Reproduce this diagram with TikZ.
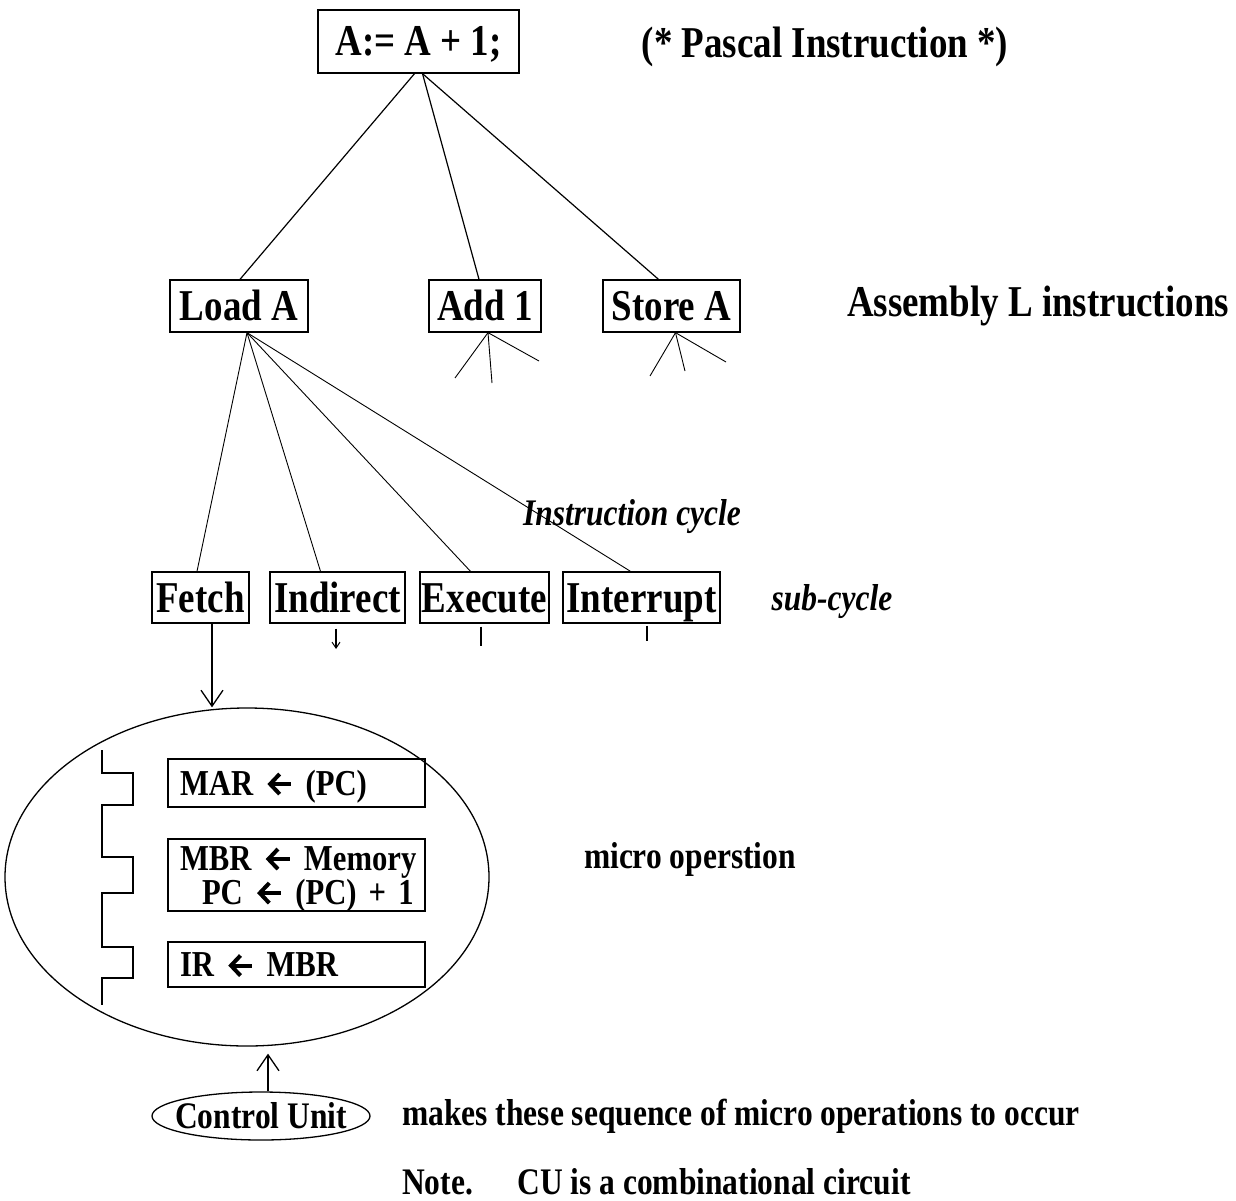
\documentclass[tikz,border=0pt]{standalone}
\usepackage{fontspec}
\setmainfont{Liberation Serif}[FakeStretch=0.84]
\usetikzlibrary{arrows.meta,shapes.geometric}

% thick chevron arrow used in the register transfer statements
\newcommand\lar{\tikz[baseline=-0.3em]\draw[line width=0.11em,{Straight Barb[length=0.26em,width=0.55em,line width=0.11em]}-] (0pt,0pt) -- (0.66em,0pt);}

\begin{document}
\begin{tikzpicture}[x=1pt,y=-1pt,
  ln/.style={line width=1.2pt},
  thin/.style={line width=0.9pt},
  box/.style={draw,line width=1.3pt,inner sep=0pt,text height=29pt,text depth=0pt,
              font=\fontsize{44}{48}\selectfont\bfseries},
  lbl/.style={inner sep=0pt,anchor=base,font=\fontsize{44}{48}\selectfont\bfseries},
  note/.style={inner sep=0pt,anchor=base,font=\fontsize{37.5}{42}\selectfont\bfseries},
  op/.style={draw,line width=1.2pt,inner xsep=0pt,inner ysep=0pt,text width=257pt,align=left,
             font=\fontsize{36.5}{34}\selectfont\bfseries},
  openhead/.style={-{Straight Barb[length=16pt,width=22pt,line width=1.3pt]}},
  smallhead/.style={-{Straight Barb[length=6pt,width=8pt,line width=1pt]}}]

\fill[white] (0,0) rectangle (1236,1201);
\useasboundingbox (0,0) rectangle (1236,1201);

% Pascal statement
\node[box,minimum width=201pt,minimum height=63pt] (pas) at (418.5,41.5) {A:= A + 1;};
\node[lbl] (pascal) at (825,58) {(* Pascal Instruction *)};

% assembly level
\node[box,minimum width=138pt,minimum height=52pt] (load) at (239,306) {Load A};
\node[box,minimum width=112pt,minimum height=52pt] (add) at (485,306) {Add 1};
\node[box,minimum width=137pt,minimum height=52pt] (store) at (671.5,306) {Store A};
\node[lbl] (asm) at (1038,316) {Assembly L instructions};

\draw[ln] ([xshift=-4pt]pas.south) -- ([xshift=1pt]load.north);
\draw[ln] ([xshift=4pt]pas.south) -- ([xshift=-6pt]add.north);
\draw[ln] ([xshift=4pt]pas.south) -- ([xshift=-13pt]store.north);

% unexpanded sub-trees of Add 1 and Store A
\coordinate (a1) at (455,378);
\coordinate (a2) at (492,383);
\coordinate (a3) at (539,361);
\coordinate (s1) at (650,376);
\coordinate (s2) at (685,371);
\coordinate (s3) at (726,362);
\foreach \e in {a1,a2,a3} \draw[thin] ([xshift=3pt]add.south) -- (\e);
\foreach \e in {s1,s2,s3} \draw[thin] ([xshift=4pt]store.south) -- (\e);

% instruction cycle
\node[box,minimum width=97pt,minimum height=51pt] (fetch) at (200.5,597.5) {Fetch};
\node[box,minimum width=135pt,minimum height=51pt] (ind) at (337.5,597.5) {Indirect};
\node[box,minimum width=129pt,minimum height=51pt] (exe) at (484.5,597.5) {Execute};
\node[box,minimum width=157pt,minimum height=51pt] (intr) at (641.5,597.5) {Interrupt};

\draw[thin] ([xshift=8pt]load.south) -- ([xshift=-3.5pt]fetch.north);
\draw[thin] ([xshift=8pt]load.south) -- ([xshift=-17pt]ind.north);
\draw[thin] ([xshift=8pt]load.south) -- ([xshift=-14pt]exe.north);
\draw[thin] ([xshift=8pt]load.south) -- ([xshift=-11pt]intr.north);

\node[note,font=\fontsize{37.5}{42}\selectfont\bfseries\itshape] (icyc) at (632,525) {Instruction cycle};
\node[note,font=\fontsize{37.5}{42}\selectfont\bfseries\itshape] (sub) at (832,610) {sub-cycle};

% stubs below the other sub-cycles
\coordinate (ie) at (336,649);
\coordinate (ee) at (481,646);
\coordinate (te) at (647,641);
\draw[ln,smallhead] ([xshift=-1.5pt]ind.south) ++(0,5) -- (ie);
\draw[ln] ([xshift=-3.5pt]exe.south) ++(0,3) -- (ee);
\draw[line width=2pt] ([xshift=5.5pt]intr.south) ++(0,2) -- (te);

% micro operations of the fetch cycle
\node[draw,ellipse,line width=1.3pt,minimum width=484pt,minimum height=338pt] (blob) at (247,877) {};
\draw[ln,openhead] ([xshift=11.5pt]fetch.south) -- ([xshift=11.5pt]fetch.south |- blob.north);

\draw[ln] (102,750) -- (102,773) -- (133,773) -- (133,805) -- (102,805)
  -- (102,857) -- (133,857) -- (133,893) -- (102,893)
  -- (102,947) -- (133,947) -- (133,978) -- (102,978) -- (102,1005);

\node[op,minimum height=48pt,text height=24pt,text depth=0pt] (mar) at (296.5,783)
  {\hspace*{12pt}MAR \lar{} (PC)};
\node[op,minimum height=72pt,text height=24pt,text depth=34pt] (mbr) at (296.5,875)
  {\hspace*{12pt}MBR \lar{} Memory\\\hspace*{34pt}PC \lar{} (PC) + 1};
\node[op,minimum height=45pt,text height=24pt,text depth=0pt] (ir) at (296.5,964.5)
  {\hspace*{12pt}IR \lar{} MBR};

\node[note] (mo) at (690,868) {micro operstion};

% control unit
\node[draw,ellipse,line width=1.3pt,minimum width=218pt,minimum height=48pt] (cu) at (261,1116) {};
\node[inner sep=0pt,text height=25pt,text depth=0pt,font=\fontsize{37.5}{42}\selectfont\bfseries]
  (cutext) at (cu.center) {Control Unit};
\draw[ln,openhead] ([xshift=7pt]cu.north) -- ([xshift=21pt,yshift=-7pt]blob.south);

\node[note,anchor=base west] (mk) at (402,1125) {makes these sequence of micro operations to occur};
\node[note,anchor=base west] (nt) at (402,1194) {Note.\hspace{0.9em} CU is a combinational circuit};

\end{tikzpicture}
\end{document}
